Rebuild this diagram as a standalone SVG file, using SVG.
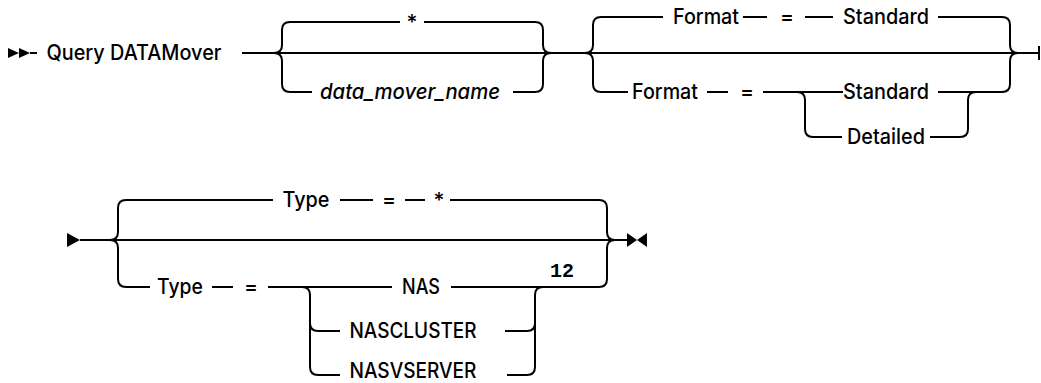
<svg xmlns="http://www.w3.org/2000/svg" width="1041" height="383" viewBox="0 0 1041 383">
<style>
.ln{fill:none;stroke:#000;stroke-width:2;stroke-linecap:butt}
.mk{fill:#000;stroke:none}
text{font-family:Inter,"Liberation Sans",Arial,sans-serif;font-size:21px;font-weight:500;fill:#000;text-anchor:middle}
.it{font-style:italic}
.mono{font-family:"Liberation Mono","DejaVu Sans Mono",monospace;font-weight:bold;font-size:20px}
</style>
<rect width="1041" height="383" fill="#fff"/>
<g id="connectors">
  <polygon class="mk" points="8,48 19,53 8,58"/>
  <polygon class="mk" points="19,48 30,53 19,58"/>
  <path class="ln" d="M30,53 H37"/>
  <path class="ln" d="M242,53 H1039"/>
  <path class="ln" d="M1039,46 V60"/>
  <path class="ln" d="M274,53 Q282,53 282,45 V30 Q282,22 290,22 H400 M424,22 H535 Q543,22 543,30 V45 Q543,53 551,53"/>
  <path class="ln" d="M274,53 Q282,53 282,61 V84 Q282,92 290,92 H312 M513,92 H535 Q543,92 543,84 V61 Q543,53 551,53"/>
  <path class="ln" d="M585,53 Q593,53 593,45 V25 Q593,17 601,17 H663 M743,17 H767 M805,17 H833 M938,17 H1002 Q1010,17 1010,25 V45 Q1010,53 1018,53"/>
  <path class="ln" d="M585,53 Q593,53 593,61 V84 Q593,92 601,92 H628 M707,92 H728 M763,92 H843 M938,92 H1002 Q1010,92 1010,84 V61 Q1010,53 1018,53"/>
  <path class="ln" d="M797,92 Q805,92 805,100 V129 Q805,137 813,137 H842 M930,137 H960 Q968,137 968,129 V100 Q968,92 976,92"/>
  <polygon class="mk" points="67,233 80,240 67,247"/>
  <path class="ln" d="M80,240 H627"/>
  <polygon class="mk" points="627,233 637,240 627,247"/>
  <polygon class="mk" points="647,233 637,240 647,247"/>
  <path class="ln" d="M110,240 Q118,240 118,232 V208 Q118,200 126,200 H273 M340,200 H373 M405,200 H425 M450,200 H599 Q607,200 607,208 V232 Q607,240 615,240"/>
  <path class="ln" d="M110,240 Q118,240 118,248 V279 Q118,287 126,287 H150 M212,287 H233 M268,287 H392 M451,287 H599 Q607,287 607,279 V248 Q607,240 615,240"/>
  <path class="ln" d="M302,287 Q310,287 310,295 V367 Q310,375 318,375 H340 M310,323 Q310,331 318,331 H340"/>
  <path class="ln" d="M505,331 H527 Q535,331 535,323 M507,375 H527 Q535,375 535,367 V295 Q535,287 543,287"/>
</g>
<g id="cmd"><text x="134" y="60" textLength="175" lengthAdjust="spacingAndGlyphs">Query DATAMover</text></g>
<g id="star1"><text x="412" y="30">*</text></g>
<g id="dmname"><text class="it" x="410" y="99" textLength="180" lengthAdjust="spacingAndGlyphs">data_mover_name</text></g>
<g id="fmt-default">
  <text x="706" y="24" textLength="66" lengthAdjust="spacingAndGlyphs">Format</text>
  <text x="787" y="24">=</text>
  <text x="886" y="24" textLength="86" lengthAdjust="spacingAndGlyphs">Standard</text>
</g>
<g id="fmt-choice">
  <text x="665" y="99" textLength="66" lengthAdjust="spacingAndGlyphs">Format</text>
  <text x="747" y="99">=</text>
  <text x="886" y="99" textLength="86" lengthAdjust="spacingAndGlyphs">Standard</text>
  <text x="886" y="144" textLength="78" lengthAdjust="spacingAndGlyphs">Detailed</text>
</g>
<g id="type-default">
  <text x="306" y="207" textLength="47" lengthAdjust="spacingAndGlyphs">Type</text>
  <text x="389" y="207">=</text>
  <text x="439" y="208">*</text>
</g>
<g id="type-choice">
  <text x="180" y="294" textLength="46" lengthAdjust="spacingAndGlyphs">Type</text>
  <text x="251" y="294">=</text>
  <text x="421" y="294" textLength="38" lengthAdjust="spacingAndGlyphs">NAS</text>
  <text x="413" y="338" textLength="127" lengthAdjust="spacingAndGlyphs">NASCLUSTER</text>
  <text x="413" y="378" font-size="20" textLength="127" lengthAdjust="spacingAndGlyphs">NASVSERVER</text>
</g>
<g id="note12"><text class="mono" x="562" y="277">12</text></g>
</svg>
